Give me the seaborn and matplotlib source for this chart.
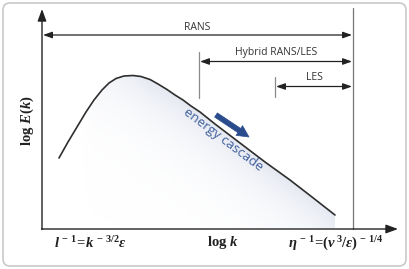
import numpy as np
import matplotlib
matplotlib.use("Agg")
import matplotlib.pyplot as plt
from matplotlib.patches import FancyBboxPatch
import seaborn as sns

# ---- data (pixel-space diagram coordinates, y downward) ----
curve_x = [59, 68, 77, 86, 94, 102, 109, 116, 124, 133, 141, 150, 158, 167,
           175, 183, 191, 200, 215, 240, 265, 290, 312, 335]
curve_y = [158, 142, 127, 112, 100, 90, 83, 78.5, 76, 75.5, 76.5, 79.5, 84, 89.5,
           95, 100, 106, 112, 124, 143, 162, 180, 197, 215]

range_labels = ["RANS", "Hybrid RANS/LES", "LES"]
range_start = [42, 199, 275]
range_end = [353, 353, 353]

x_left_label = r"$l^{\,-\,1}\!=\!k^{\,-\,3/2}\varepsilon$"
x_mid_label = r"$\mathrm{log}\ k$"
x_right_label = r"$\eta^{\,-\,1}\!=\!(\nu^{\,3}/\varepsilon)^{\,-\,1/4}$"
y_label = r"$\mathrm{log}\ E(k)$"
cascade_label = "energy cascade"

sns.set_theme(style="white")
plt.rcParams["mathtext.fontset"] = "custom"
plt.rcParams["mathtext.rm"] = "Liberation Serif:bold"
plt.rcParams["mathtext.it"] = "Liberation Serif:bold:italic"
plt.rcParams["mathtext.bf"] = "Liberation Serif:bold"

fig = plt.figure(figsize=(4.09, 2.69), dpi=100)
ax = fig.add_axes([0, 0, 1, 1])
ax.set_xlim(0, 409)
ax.set_ylim(269, 0)
ax.axis("off")

# rounded frame
frame = FancyBboxPatch((3, 3), 403, 263, boxstyle="round,pad=0,rounding_size=7",
                       fc="white", ec="#c9c9c9", lw=1.2, zorder=0)
ax.add_patch(frame)

# gradient shading under the curve
cx = np.array(curve_x, float)
cy = np.array(curve_y, float)
gx = np.linspace(cx[0], cx[-1], 400)
gy = np.linspace(70, 228, 300)
XX, YY = np.meshgrid(gx, gy)
cyi = np.interp(XX, cx, cy)
d = YY - cyi
alpha = np.where(d >= 0, np.exp(-d / 36.0), 0.0)
alpha *= np.clip((XX - 80) / 70.0, 0, 1) * 0.45
img = np.zeros(XX.shape + (4,))
img[..., 0] = 196 / 255
img[..., 1] = 204 / 255
img[..., 2] = 224 / 255
img[..., 3] = alpha
ax.imshow(img, extent=(gx[0], gx[-1], gy[-1], gy[0]), origin="upper",
          aspect="auto", zorder=1, interpolation="bilinear")

# axes arrows
ax.annotate("", xy=(42, 9), xytext=(42, 229.5),
            arrowprops=dict(arrowstyle="-|>,head_length=0.6,head_width=0.22",
                            color="#222222", lw=1.0, shrinkA=0, shrinkB=0), zorder=3)
ax.annotate("", xy=(398, 229), xytext=(41.5, 229),
            arrowprops=dict(arrowstyle="-|>,head_length=0.6,head_width=0.22",
                            color="#222222", lw=1.0, shrinkA=0, shrinkB=0), zorder=3)

# right boundary line
ax.plot([353, 353], [8, 229], color="#777777", lw=0.9, zorder=2)
# tick markers for hybrid and LES starts
ax.plot([199, 199], [52, 98], color="#8a8a8a", lw=0.9, zorder=2)
ax.plot([275, 275], [77, 97], color="#8a8a8a", lw=0.9, zorder=2)

# energy spectrum curve
sns.lineplot(x=curve_x, y=curve_y, sort=False, ax=ax, color="#2e2e2e", lw=1.2, zorder=4)

# range arrows
arrow_y = [35, 61.5, 86.5]
text_y = [27, 52.5, 77.5]
for lab, s, e, yy, ty in zip(range_labels, range_start, range_end, arrow_y, text_y):
    ax.annotate("", xy=(e - 1, yy), xytext=(s + 1, yy),
                arrowprops=dict(arrowstyle="<|-|>,head_length=0.45,head_width=0.16",
                                color="#222222", lw=0.9, shrinkA=0, shrinkB=0), zorder=3)
    ax.text((s + e) / 2, ty, lab, ha="center", va="center",
            fontsize=7.5, family="Open Sans", color="#333333")

# energy cascade text and arrow
ax.text(223, 140, cascade_label, rotation=-37, rotation_mode="anchor",
        ha="center", va="center", fontsize=9.5, family="Open Sans", color="#3d5d9c", zorder=5)
ax.annotate("", xy=(249, 137), xytext=(216, 115),
            arrowprops=dict(arrowstyle="simple,head_length=0.7,head_width=0.7,tail_width=0.3",
                            fc="#2b4c8c", ec="#2b4c8c", lw=0.5, shrinkA=0, shrinkB=0), zorder=5)

# labels
ax.text(90, 243.5, x_left_label, ha="center", va="center", fontsize=10.5, color="#222222")
ax.text(223, 242.5, x_mid_label, ha="center", va="center", fontsize=10.5, color="#222222")
ax.text(336, 243.5, x_right_label, ha="center", va="center", fontsize=10.5, color="#222222")
ax.text(27, 121, y_label, ha="center", va="center", rotation=90, fontsize=10.5, color="#222222")

fig.savefig("out.png", dpi=100)
